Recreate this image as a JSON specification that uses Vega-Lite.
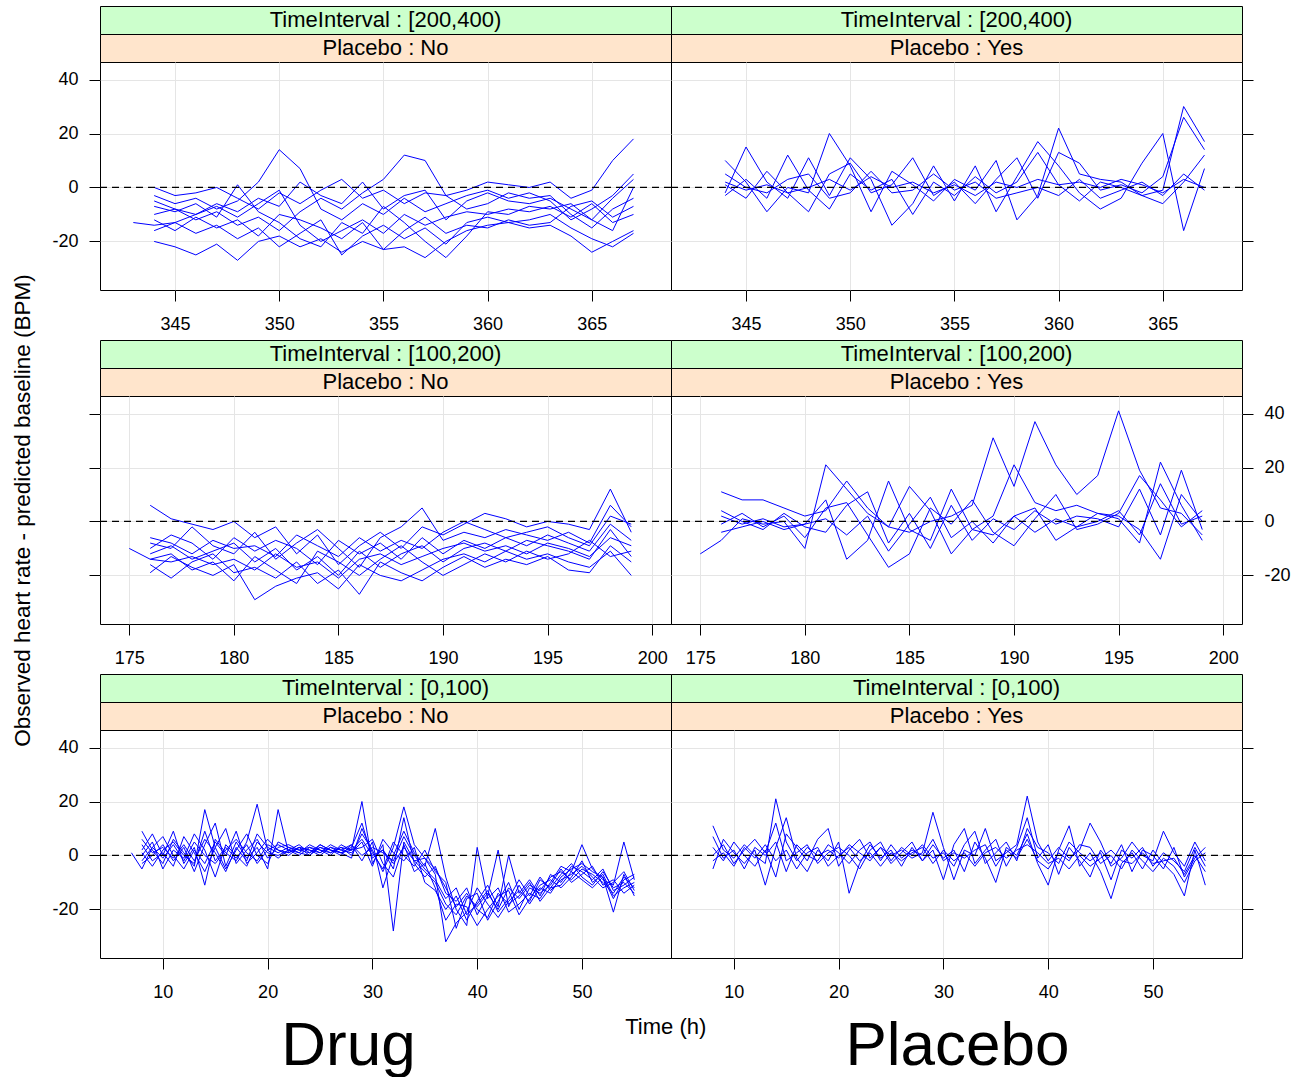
{
"$schema":"https://vega.github.io/schema/vega-lite/v6.json",
"padding":{"left":10,"top":5,"right":5,"bottom":0},
"bounds":"flush",
"columns":2,
"spacing":0,
"config":{"font":"Liberation Sans","view":{"stroke":"black","strokeWidth":1},
"axis":{"labelFontSize":18,"labelColor":"black","tickColor":"black","tickSize":11,"domain":false,"grid":true,"gridColor":"#e5e5e5","titleFontWeight":"normal","titleColor":"black","labelFlush":false,"labelOverlap":false},
"axisX":{"labelPadding":14},"axisY":{"labelPadding":11}},
"title":{"text":"Time (h)","orient":"bottom","anchor":"middle","frame":"bounds","dx":15,"fontSize":22,"fontWeight":"normal","offset":-60,"color":"black"},
"datasets":{
"tl":[
{"s":1,"x":344,"y":-20},{"s":1,"x":345,"y":-22},{"s":1,"x":346,"y":-25},{"s":1,"x":347,"y":-21},{"s":1,"x":348,"y":-27},{"s":1,"x":349,"y":-20},{"s":1,"x":350,"y":-18},{"s":1,"x":351,"y":-22},{"s":1,"x":352,"y":-19},{"s":1,"x":353,"y":-24},{"s":1,"x":354,"y":-20},{"s":1,"x":355,"y":-23},{"s":1,"x":356,"y":-22},{"s":1,"x":357,"y":-26},{"s":1,"x":358,"y":-20},{"s":1,"x":359,"y":-16},{"s":1,"x":360,"y":-14},{"s":1,"x":361,"y":-13},{"s":1,"x":362,"y":-15},{"s":1,"x":363,"y":-14},{"s":1,"x":364,"y":-18},{"s":1,"x":365,"y":-24},{"s":1,"x":366,"y":-20},{"s":1,"x":367,"y":-16},
{"s":2,"x":344,"y":-3},{"s":2,"x":345,"y":-6},{"s":2,"x":346,"y":-4},{"s":2,"x":347,"y":-8},{"s":2,"x":348,"y":-5},{"s":2,"x":349,"y":2},{"s":2,"x":350,"y":14},{"s":2,"x":351,"y":7},{"s":2,"x":352,"y":-8},{"s":2,"x":353,"y":-12},{"s":2,"x":354,"y":-6},{"s":2,"x":355,"y":-10},{"s":2,"x":356,"y":-4},{"s":2,"x":357,"y":-9},{"s":2,"x":358,"y":-6},{"s":2,"x":359,"y":-3},{"s":2,"x":360,"y":-1},{"s":2,"x":361,"y":-4},{"s":2,"x":362,"y":-2},{"s":2,"x":363,"y":-5},{"s":2,"x":364,"y":-12},{"s":2,"x":365,"y":-8},{"s":2,"x":366,"y":-3},{"s":2,"x":367,"y":5},
{"s":3,"x":344,"y":-10},{"s":3,"x":345,"y":-8},{"s":3,"x":346,"y":-12},{"s":3,"x":347,"y":-9},{"s":3,"x":348,"y":-14},{"s":3,"x":349,"y":-11},{"s":3,"x":350,"y":-16},{"s":3,"x":351,"y":-9},{"s":3,"x":352,"y":-4},{"s":3,"x":353,"y":-8},{"s":3,"x":354,"y":-2},{"s":3,"x":355,"y":3},{"s":3,"x":356,"y":12},{"s":3,"x":357,"y":10},{"s":3,"x":358,"y":-3},{"s":3,"x":359,"y":-8},{"s":3,"x":360,"y":-6},{"s":3,"x":361,"y":-2},{"s":3,"x":362,"y":-4},{"s":3,"x":363,"y":-3},{"s":3,"x":364,"y":-10},{"s":3,"x":365,"y":-15},{"s":3,"x":366,"y":-8},{"s":3,"x":367,"y":-4},
{"s":4,"x":343,"y":-13},{"s":4,"x":344,"y":-14},{"s":4,"x":345,"y":-13},{"s":4,"x":346,"y":-10},{"s":4,"x":347,"y":-7},{"s":4,"x":348,"y":-11},{"s":4,"x":349,"y":-6},{"s":4,"x":350,"y":-1},{"s":4,"x":351,"y":-14},{"s":4,"x":352,"y":-20},{"s":4,"x":353,"y":-16},{"s":4,"x":354,"y":-12},{"s":4,"x":355,"y":-17},{"s":4,"x":356,"y":-10},{"s":4,"x":357,"y":-14},{"s":4,"x":358,"y":-11},{"s":4,"x":359,"y":-9},{"s":4,"x":360,"y":-10},{"s":4,"x":361,"y":-8},{"s":4,"x":362,"y":-9},{"s":4,"x":363,"y":-7},{"s":4,"x":364,"y":-11},{"s":4,"x":365,"y":-6},{"s":4,"x":366,"y":-13},{"s":4,"x":367,"y":-10},
{"s":5,"x":344,"y":0},{"s":5,"x":345,"y":-3},{"s":5,"x":346,"y":-2},{"s":5,"x":347,"y":0},{"s":5,"x":348,"y":-4},{"s":5,"x":349,"y":-8},{"s":5,"x":350,"y":-2},{"s":5,"x":351,"y":-6},{"s":5,"x":352,"y":-1},{"s":5,"x":353,"y":3},{"s":5,"x":354,"y":-4},{"s":5,"x":355,"y":-1},{"s":5,"x":356,"y":-6},{"s":5,"x":357,"y":-2},{"s":5,"x":358,"y":-3},{"s":5,"x":359,"y":-1},{"s":5,"x":360,"y":2},{"s":5,"x":361,"y":1},{"s":5,"x":362,"y":0},{"s":5,"x":363,"y":2},{"s":5,"x":364,"y":-4},{"s":5,"x":365,"y":-1},{"s":5,"x":366,"y":10},{"s":5,"x":367,"y":18},
{"s":6,"x":344,"y":-16},{"s":6,"x":345,"y":-13},{"s":6,"x":346,"y":-17},{"s":6,"x":347,"y":-14},{"s":6,"x":348,"y":-19},{"s":6,"x":349,"y":-15},{"s":6,"x":350,"y":-22},{"s":6,"x":351,"y":-17},{"s":6,"x":352,"y":-12},{"s":6,"x":353,"y":-25},{"s":6,"x":354,"y":-18},{"s":6,"x":355,"y":-14},{"s":6,"x":356,"y":-19},{"s":6,"x":357,"y":-15},{"s":6,"x":358,"y":-21},{"s":6,"x":359,"y":-13},{"s":6,"x":360,"y":-11},{"s":6,"x":361,"y":-13},{"s":6,"x":362,"y":-12},{"s":6,"x":363,"y":-10},{"s":6,"x":364,"y":-15},{"s":6,"x":365,"y":-19},{"s":6,"x":366,"y":-22},{"s":6,"x":367,"y":-17},
{"s":7,"x":344,"y":-7},{"s":7,"x":345,"y":-9},{"s":7,"x":346,"y":-6},{"s":7,"x":347,"y":-11},{"s":7,"x":348,"y":1},{"s":7,"x":349,"y":-9},{"s":7,"x":350,"y":-13},{"s":7,"x":351,"y":-19},{"s":7,"x":352,"y":-22},{"s":7,"x":353,"y":-13},{"s":7,"x":354,"y":-17},{"s":7,"x":355,"y":-7},{"s":7,"x":356,"y":-13},{"s":7,"x":357,"y":-20},{"s":7,"x":358,"y":-26},{"s":7,"x":359,"y":-18},{"s":7,"x":360,"y":-9},{"s":7,"x":361,"y":-10},{"s":7,"x":362,"y":-7},{"s":7,"x":363,"y":-8},{"s":7,"x":364,"y":-6},{"s":7,"x":365,"y":-12},{"s":7,"x":366,"y":-16},{"s":7,"x":367,"y":0},
{"s":8,"x":344,"y":-5},{"s":8,"x":345,"y":-8},{"s":8,"x":346,"y":-10},{"s":8,"x":347,"y":-6},{"s":8,"x":348,"y":-9},{"s":8,"x":349,"y":-4},{"s":8,"x":350,"y":-7},{"s":8,"x":351,"y":2},{"s":8,"x":352,"y":-3},{"s":8,"x":353,"y":-6},{"s":8,"x":354,"y":2},{"s":8,"x":355,"y":-8},{"s":8,"x":356,"y":-3},{"s":8,"x":357,"y":-1},{"s":8,"x":358,"y":-12},{"s":8,"x":359,"y":-5},{"s":8,"x":360,"y":-2},{"s":8,"x":361,"y":-5},{"s":8,"x":362,"y":-6},{"s":8,"x":363,"y":-4},{"s":8,"x":364,"y":-8},{"s":8,"x":365,"y":-12},{"s":8,"x":366,"y":-4},{"s":8,"x":367,"y":3},
{"s":9,"x":344,"y":-12},{"s":9,"x":345,"y":-16},{"s":9,"x":346,"y":-11},{"s":9,"x":347,"y":-15},{"s":9,"x":348,"y":-12},{"s":9,"x":349,"y":-18},{"s":9,"x":350,"y":-10},{"s":9,"x":351,"y":-12},{"s":9,"x":352,"y":-15},{"s":9,"x":353,"y":-19},{"s":9,"x":354,"y":-13},{"s":9,"x":355,"y":-23},{"s":9,"x":356,"y":-16},{"s":9,"x":357,"y":-11},{"s":9,"x":358,"y":-17},{"s":9,"x":359,"y":-14},{"s":9,"x":360,"y":-15},{"s":9,"x":361,"y":-12},{"s":9,"x":362,"y":-14},{"s":9,"x":363,"y":-13},{"s":9,"x":364,"y":-7},{"s":9,"x":365,"y":-5},{"s":9,"x":366,"y":-11},{"s":9,"x":367,"y":-7}
],
"tr":[
{"s":1,"x":344,"y":2},{"s":1,"x":345,"y":-1},{"s":1,"x":346,"y":1},{"s":1,"x":347,"y":-2},{"s":1,"x":348,"y":0},{"s":1,"x":349,"y":3},{"s":1,"x":350,"y":-1},{"s":1,"x":351,"y":4},{"s":1,"x":352,"y":0},{"s":1,"x":353,"y":2},{"s":1,"x":354,"y":-2},{"s":1,"x":355,"y":1},{"s":1,"x":356,"y":-3},{"s":1,"x":357,"y":2},{"s":1,"x":358,"y":0},{"s":1,"x":359,"y":3},{"s":1,"x":360,"y":1},{"s":1,"x":361,"y":2},{"s":1,"x":362,"y":0},{"s":1,"x":363,"y":3},{"s":1,"x":364,"y":1},{"s":1,"x":365,"y":-2},{"s":1,"x":366,"y":3},{"s":1,"x":367,"y":0},
{"s":2,"x":344,"y":10},{"s":2,"x":345,"y":2},{"s":2,"x":346,"y":-9},{"s":2,"x":347,"y":0},{"s":2,"x":348,"y":-2},{"s":2,"x":349,"y":20},{"s":2,"x":350,"y":8},{"s":2,"x":351,"y":-9},{"s":2,"x":352,"y":6},{"s":2,"x":353,"y":1},{"s":2,"x":354,"y":-5},{"s":2,"x":355,"y":3},{"s":2,"x":356,"y":-1},{"s":2,"x":357,"y":10},{"s":2,"x":358,"y":-12},{"s":2,"x":359,"y":-3},{"s":2,"x":360,"y":22},{"s":2,"x":361,"y":5},{"s":2,"x":362,"y":3},{"s":2,"x":363,"y":2},{"s":2,"x":364,"y":-3},{"s":2,"x":365,"y":-1},{"s":2,"x":366,"y":30},{"s":2,"x":367,"y":17},
{"s":3,"x":344,"y":-2},{"s":3,"x":345,"y":15},{"s":3,"x":346,"y":2},{"s":3,"x":347,"y":-4},{"s":3,"x":348,"y":11},{"s":3,"x":349,"y":-3},{"s":3,"x":350,"y":11},{"s":3,"x":351,"y":3},{"s":3,"x":352,"y":-14},{"s":3,"x":353,"y":-6},{"s":3,"x":354,"y":8},{"s":3,"x":355,"y":-5},{"s":3,"x":356,"y":8},{"s":3,"x":357,"y":-9},{"s":3,"x":358,"y":4},{"s":3,"x":359,"y":17},{"s":3,"x":360,"y":8},{"s":3,"x":361,"y":-2},{"s":3,"x":362,"y":-8},{"s":3,"x":363,"y":-4},{"s":3,"x":364,"y":9},{"s":3,"x":365,"y":20},{"s":3,"x":366,"y":-16},{"s":3,"x":367,"y":7},
{"s":4,"x":344,"y":1},{"s":4,"x":345,"y":-4},{"s":4,"x":346,"y":6},{"s":4,"x":347,"y":-2},{"s":4,"x":348,"y":-9},{"s":4,"x":349,"y":5},{"s":4,"x":350,"y":9},{"s":4,"x":351,"y":-2},{"s":4,"x":352,"y":1},{"s":4,"x":353,"y":11},{"s":4,"x":354,"y":-3},{"s":4,"x":355,"y":2},{"s":4,"x":356,"y":-6},{"s":4,"x":357,"y":3},{"s":4,"x":358,"y":11},{"s":4,"x":359,"y":-4},{"s":4,"x":360,"y":13},{"s":4,"x":361,"y":9},{"s":4,"x":362,"y":-1},{"s":4,"x":363,"y":1},{"s":4,"x":364,"y":-2},{"s":4,"x":365,"y":4},{"s":4,"x":366,"y":26},{"s":4,"x":367,"y":14},
{"s":5,"x":344,"y":-3},{"s":5,"x":345,"y":3},{"s":5,"x":346,"y":-4},{"s":5,"x":347,"y":12},{"s":5,"x":348,"y":-1},{"s":5,"x":349,"y":-8},{"s":5,"x":350,"y":5},{"s":5,"x":351,"y":-1},{"s":5,"x":352,"y":3},{"s":5,"x":353,"y":-10},{"s":5,"x":354,"y":2},{"s":5,"x":355,"y":-3},{"s":5,"x":356,"y":4},{"s":5,"x":357,"y":-2},{"s":5,"x":358,"y":2},{"s":5,"x":359,"y":13},{"s":5,"x":360,"y":1},{"s":5,"x":361,"y":-5},{"s":5,"x":362,"y":2},{"s":5,"x":363,"y":0},{"s":5,"x":364,"y":-3},{"s":5,"x":365,"y":-6},{"s":5,"x":366,"y":2},{"s":5,"x":367,"y":12},
{"s":6,"x":344,"y":5},{"s":6,"x":345,"y":0},{"s":6,"x":346,"y":-2},{"s":6,"x":347,"y":3},{"s":6,"x":348,"y":5},{"s":6,"x":349,"y":-4},{"s":6,"x":350,"y":-2},{"s":6,"x":351,"y":6},{"s":6,"x":352,"y":-2},{"s":6,"x":353,"y":-1},{"s":6,"x":354,"y":5},{"s":6,"x":355,"y":-1},{"s":6,"x":356,"y":2},{"s":6,"x":357,"y":-4},{"s":6,"x":358,"y":-2},{"s":6,"x":359,"y":0},{"s":6,"x":360,"y":-3},{"s":6,"x":361,"y":3},{"s":6,"x":362,"y":-4},{"s":6,"x":363,"y":-1},{"s":6,"x":364,"y":2},{"s":6,"x":365,"y":-3},{"s":6,"x":366,"y":5},{"s":6,"x":367,"y":-1}
],
"ml":[
{"s":1,"x":175,"y":-10},{"s":1,"x":176,"y":-14},{"s":1,"x":177,"y":-15},{"s":1,"x":178,"y":-13},{"s":1,"x":179,"y":-16},{"s":1,"x":180,"y":-14},{"s":1,"x":181,"y":-18},{"s":1,"x":182,"y":-12},{"s":1,"x":183,"y":-17},{"s":1,"x":184,"y":-15},{"s":1,"x":185,"y":-21},{"s":1,"x":186,"y":-14},{"s":1,"x":187,"y":-12},{"s":1,"x":188,"y":-16},{"s":1,"x":189,"y":-13},{"s":1,"x":190,"y":-10},{"s":1,"x":191,"y":-8},{"s":1,"x":192,"y":-11},{"s":1,"x":193,"y":-9},{"s":1,"x":194,"y":-12},{"s":1,"x":195,"y":-8},{"s":1,"x":196,"y":-10},{"s":1,"x":197,"y":-13},{"s":1,"x":198,"y":-6},{"s":1,"x":199,"y":-9},
{"s":2,"x":176,"y":6},{"s":2,"x":177,"y":1},{"s":2,"x":178,"y":-1},{"s":2,"x":179,"y":-3},{"s":2,"x":180,"y":0},{"s":2,"x":181,"y":-6},{"s":2,"x":182,"y":-2},{"s":2,"x":183,"y":-12},{"s":2,"x":184,"y":-5},{"s":2,"x":185,"y":-16},{"s":2,"x":186,"y":-9},{"s":2,"x":187,"y":-4},{"s":2,"x":188,"y":-10},{"s":2,"x":189,"y":-2},{"s":2,"x":190,"y":-5},{"s":2,"x":191,"y":-1},{"s":2,"x":192,"y":3},{"s":2,"x":193,"y":1},{"s":2,"x":194,"y":-2},{"s":2,"x":195,"y":0},{"s":2,"x":196,"y":-1},{"s":2,"x":197,"y":-3},{"s":2,"x":198,"y":12},{"s":2,"x":199,"y":-4},
{"s":3,"x":176,"y":-19},{"s":3,"x":177,"y":-13},{"s":3,"x":178,"y":-17},{"s":3,"x":179,"y":-20},{"s":3,"x":180,"y":-16},{"s":3,"x":181,"y":-29},{"s":3,"x":182,"y":-24},{"s":3,"x":183,"y":-21},{"s":3,"x":184,"y":-19},{"s":3,"x":185,"y":-25},{"s":3,"x":186,"y":-16},{"s":3,"x":187,"y":-20},{"s":3,"x":188,"y":-22},{"s":3,"x":189,"y":-18},{"s":3,"x":190,"y":-14},{"s":3,"x":191,"y":-12},{"s":3,"x":192,"y":-15},{"s":3,"x":193,"y":-11},{"s":3,"x":194,"y":-14},{"s":3,"x":195,"y":-12},{"s":3,"x":196,"y":-15},{"s":3,"x":197,"y":-17},{"s":3,"x":198,"y":-11},{"s":3,"x":199,"y":-20},
{"s":4,"x":176,"y":-8},{"s":4,"x":177,"y":-10},{"s":4,"x":178,"y":-2},{"s":4,"x":179,"y":-9},{"s":4,"x":180,"y":-12},{"s":4,"x":181,"y":-4},{"s":4,"x":182,"y":-14},{"s":4,"x":183,"y":-8},{"s":4,"x":184,"y":-3},{"s":4,"x":185,"y":-10},{"s":4,"x":186,"y":-17},{"s":4,"x":187,"y":-6},{"s":4,"x":188,"y":-2},{"s":4,"x":189,"y":5},{"s":4,"x":190,"y":-7},{"s":4,"x":191,"y":-4},{"s":4,"x":192,"y":-6},{"s":4,"x":193,"y":-3},{"s":4,"x":194,"y":-5},{"s":4,"x":195,"y":-7},{"s":4,"x":196,"y":-4},{"s":4,"x":197,"y":-8},{"s":4,"x":198,"y":6},{"s":4,"x":199,"y":-2},
{"s":5,"x":176,"y":-12},{"s":5,"x":177,"y":-9},{"s":5,"x":178,"y":-14},{"s":5,"x":179,"y":-11},{"s":5,"x":180,"y":-8},{"s":5,"x":181,"y":-15},{"s":5,"x":182,"y":-10},{"s":5,"x":183,"y":-18},{"s":5,"x":184,"y":-13},{"s":5,"x":185,"y":-20},{"s":5,"x":186,"y":-11},{"s":5,"x":187,"y":-17},{"s":5,"x":188,"y":-12},{"s":5,"x":189,"y":-9},{"s":5,"x":190,"y":-15},{"s":5,"x":191,"y":-10},{"s":5,"x":192,"y":-8},{"s":5,"x":193,"y":-11},{"s":5,"x":194,"y":-7},{"s":5,"x":195,"y":-9},{"s":5,"x":196,"y":-11},{"s":5,"x":197,"y":-14},{"s":5,"x":198,"y":-3},{"s":5,"x":199,"y":-13},
{"s":6,"x":176,"y":-6},{"s":6,"x":177,"y":-8},{"s":6,"x":178,"y":-12},{"s":6,"x":179,"y":-7},{"s":6,"x":180,"y":-10},{"s":6,"x":181,"y":-9},{"s":6,"x":182,"y":-13},{"s":6,"x":183,"y":-5},{"s":6,"x":184,"y":-9},{"s":6,"x":185,"y":-13},{"s":6,"x":186,"y":-6},{"s":6,"x":187,"y":-11},{"s":6,"x":188,"y":-7},{"s":6,"x":189,"y":-10},{"s":6,"x":190,"y":-4},{"s":6,"x":191,"y":0},{"s":6,"x":192,"y":-3},{"s":6,"x":193,"y":-6},{"s":6,"x":194,"y":-4},{"s":6,"x":195,"y":-2},{"s":6,"x":196,"y":-6},{"s":6,"x":197,"y":-9},{"s":6,"x":198,"y":2},{"s":6,"x":199,"y":-1},
{"s":7,"x":176,"y":-16},{"s":7,"x":177,"y":-21},{"s":7,"x":178,"y":-15},{"s":7,"x":179,"y":-12},{"s":7,"x":180,"y":-19},{"s":7,"x":181,"y":-17},{"s":7,"x":182,"y":-21},{"s":7,"x":183,"y":-15},{"s":7,"x":184,"y":-23},{"s":7,"x":185,"y":-18},{"s":7,"x":186,"y":-27},{"s":7,"x":187,"y":-15},{"s":7,"x":188,"y":-19},{"s":7,"x":189,"y":-22},{"s":7,"x":190,"y":-17},{"s":7,"x":191,"y":-13},{"s":7,"x":192,"y":-17},{"s":7,"x":193,"y":-14},{"s":7,"x":194,"y":-16},{"s":7,"x":195,"y":-13},{"s":7,"x":196,"y":-18},{"s":7,"x":197,"y":-19},{"s":7,"x":198,"y":-9},{"s":7,"x":199,"y":-15},
{"s":8,"x":176,"y":-10},{"s":8,"x":177,"y":-5},{"s":8,"x":178,"y":-8},{"s":8,"x":179,"y":-14},{"s":8,"x":180,"y":-6},{"s":8,"x":181,"y":-11},{"s":8,"x":182,"y":-7},{"s":8,"x":183,"y":-10},{"s":8,"x":184,"y":-16},{"s":8,"x":185,"y":-7},{"s":8,"x":186,"y":-12},{"s":8,"x":187,"y":-8},{"s":8,"x":188,"y":-14},{"s":8,"x":189,"y":-6},{"s":8,"x":190,"y":-12},{"s":8,"x":191,"y":-7},{"s":8,"x":192,"y":-10},{"s":8,"x":193,"y":-6},{"s":8,"x":194,"y":-9},{"s":8,"x":195,"y":-5},{"s":8,"x":196,"y":-8},{"s":8,"x":197,"y":-11},{"s":8,"x":198,"y":-1},{"s":8,"x":199,"y":-7},
{"s":9,"x":176,"y":-14},{"s":9,"x":177,"y":-12},{"s":9,"x":178,"y":-18},{"s":9,"x":179,"y":-15},{"s":9,"x":180,"y":-22},{"s":9,"x":181,"y":-13},{"s":9,"x":182,"y":-18},{"s":9,"x":183,"y":-23},{"s":9,"x":184,"y":-11},{"s":9,"x":185,"y":-15},{"s":9,"x":186,"y":-20},{"s":9,"x":187,"y":-14},{"s":9,"x":188,"y":-9},{"s":9,"x":189,"y":-15},{"s":9,"x":190,"y":-20},{"s":9,"x":191,"y":-16},{"s":9,"x":192,"y":-12},{"s":9,"x":193,"y":-15},{"s":9,"x":194,"y":-11},{"s":9,"x":195,"y":-14},{"s":9,"x":196,"y":-12},{"s":9,"x":197,"y":-7},{"s":9,"x":198,"y":-13},{"s":9,"x":199,"y":-11}
],
"mr":[
{"s":1,"x":176,"y":11},{"s":1,"x":177,"y":8},{"s":1,"x":178,"y":8},{"s":1,"x":179,"y":5},{"s":1,"x":180,"y":2},{"s":1,"x":181,"y":4},{"s":1,"x":182,"y":15},{"s":1,"x":183,"y":5},{"s":1,"x":184,"y":-2},{"s":1,"x":185,"y":-4},{"s":1,"x":186,"y":0},{"s":1,"x":187,"y":2},{"s":1,"x":188,"y":6},{"s":1,"x":189,"y":31},{"s":1,"x":190,"y":13},{"s":1,"x":191,"y":37},{"s":1,"x":192,"y":21},{"s":1,"x":193,"y":10},{"s":1,"x":194,"y":17},{"s":1,"x":195,"y":41},{"s":1,"x":196,"y":19},{"s":1,"x":197,"y":5},{"s":1,"x":198,"y":3},{"s":1,"x":199,"y":-5},
{"s":2,"x":175,"y":-12},{"s":2,"x":176,"y":-7},{"s":2,"x":177,"y":1},{"s":2,"x":178,"y":-1},{"s":2,"x":179,"y":0},{"s":2,"x":180,"y":-10},{"s":2,"x":181,"y":21},{"s":2,"x":182,"y":12},{"s":2,"x":183,"y":3},{"s":2,"x":184,"y":-2},{"s":2,"x":185,"y":13},{"s":2,"x":186,"y":4},{"s":2,"x":187,"y":-12},{"s":2,"x":188,"y":-3},{"s":2,"x":189,"y":-5},{"s":2,"x":190,"y":2},{"s":2,"x":191,"y":5},{"s":2,"x":192,"y":-7},{"s":2,"x":193,"y":-2},{"s":2,"x":194,"y":3},{"s":2,"x":195,"y":1},{"s":2,"x":196,"y":-8},{"s":2,"x":197,"y":22},{"s":2,"x":198,"y":6},{"s":2,"x":199,"y":-7},
{"s":3,"x":176,"y":2},{"s":3,"x":177,"y":-1},{"s":3,"x":178,"y":1},{"s":3,"x":179,"y":-2},{"s":3,"x":180,"y":-1},{"s":3,"x":181,"y":8},{"s":3,"x":182,"y":-14},{"s":3,"x":183,"y":-7},{"s":3,"x":184,"y":15},{"s":3,"x":185,"y":-3},{"s":3,"x":186,"y":-7},{"s":3,"x":187,"y":12},{"s":3,"x":188,"y":-3},{"s":3,"x":189,"y":2},{"s":3,"x":190,"y":21},{"s":3,"x":191,"y":7},{"s":3,"x":192,"y":4},{"s":3,"x":193,"y":6},{"s":3,"x":194,"y":3},{"s":3,"x":195,"y":2},{"s":3,"x":196,"y":-3},{"s":3,"x":197,"y":-14},{"s":3,"x":198,"y":10},{"s":3,"x":199,"y":0},
{"s":4,"x":176,"y":-1},{"s":4,"x":177,"y":3},{"s":4,"x":178,"y":-2},{"s":4,"x":179,"y":2},{"s":4,"x":180,"y":-6},{"s":4,"x":181,"y":5},{"s":4,"x":182,"y":7},{"s":4,"x":183,"y":-5},{"s":4,"x":184,"y":-17},{"s":4,"x":185,"y":-12},{"s":4,"x":186,"y":5},{"s":4,"x":187,"y":-1},{"s":4,"x":188,"y":8},{"s":4,"x":189,"y":-4},{"s":4,"x":190,"y":-9},{"s":4,"x":191,"y":1},{"s":4,"x":192,"y":10},{"s":4,"x":193,"y":-3},{"s":4,"x":194,"y":-1},{"s":4,"x":195,"y":3},{"s":4,"x":196,"y":17},{"s":4,"x":197,"y":8},{"s":4,"x":198,"y":-2},{"s":4,"x":199,"y":4},
{"s":5,"x":176,"y":4},{"s":5,"x":177,"y":0},{"s":5,"x":178,"y":-3},{"s":5,"x":179,"y":3},{"s":5,"x":180,"y":-2},{"s":5,"x":181,"y":-4},{"s":5,"x":182,"y":6},{"s":5,"x":183,"y":11},{"s":5,"x":184,"y":-8},{"s":5,"x":185,"y":3},{"s":5,"x":186,"y":-10},{"s":5,"x":187,"y":6},{"s":5,"x":188,"y":-7},{"s":5,"x":189,"y":1},{"s":5,"x":190,"y":-3},{"s":5,"x":191,"y":4},{"s":5,"x":192,"y":-1},{"s":5,"x":193,"y":2},{"s":5,"x":194,"y":1},{"s":5,"x":195,"y":-2},{"s":5,"x":196,"y":12},{"s":5,"x":197,"y":-5},{"s":5,"x":198,"y":19},{"s":5,"x":199,"y":-3},
{"s":6,"x":176,"y":-4},{"s":6,"x":177,"y":-2},{"s":6,"x":178,"y":0},{"s":6,"x":179,"y":-3},{"s":6,"x":180,"y":-1},{"s":6,"x":181,"y":1},{"s":6,"x":182,"y":-5},{"s":6,"x":183,"y":2},{"s":6,"x":184,"y":-11},{"s":6,"x":185,"y":-1},{"s":6,"x":186,"y":9},{"s":6,"x":187,"y":-6},{"s":6,"x":188,"y":0},{"s":6,"x":189,"y":-8},{"s":6,"x":190,"y":2},{"s":6,"x":191,"y":-4},{"s":6,"x":192,"y":1},{"s":6,"x":193,"y":-2},{"s":6,"x":194,"y":0},{"s":6,"x":195,"y":4},{"s":6,"x":196,"y":-5},{"s":6,"x":197,"y":14},{"s":6,"x":198,"y":-1},{"s":6,"x":199,"y":2}
],
"bl":[
{"s":1,"x":7,"y":1},{"s":1,"x":8,"y":-5},{"s":1,"x":9,"y":3},{"s":1,"x":10,"y":-1},{"s":1,"x":11,"y":4},{"s":1,"x":12,"y":-2},{"s":1,"x":13,"y":5},{"s":1,"x":14,"y":0},{"s":1,"x":15,"y":-3},{"s":1,"x":16,"y":2},{"s":1,"x":17,"y":6},{"s":1,"x":18,"y":1},{"s":1,"x":19,"y":-2},{"s":1,"x":20,"y":4},{"s":1,"x":21,"y":2},{"s":1,"x":22,"y":1},{"s":1,"x":23,"y":3},{"s":1,"x":24,"y":2},{"s":1,"x":25,"y":0},{"s":1,"x":26,"y":3},{"s":1,"x":27,"y":1},{"s":1,"x":28,"y":2},{"s":1,"x":29,"y":20},{"s":1,"x":30,"y":-3},{"s":1,"x":31,"y":4},{"s":1,"x":32,"y":-28},{"s":1,"x":33,"y":5},{"s":1,"x":34,"y":-2},{"s":1,"x":35,"y":-6},{"s":1,"x":36,"y":-10},{"s":1,"x":37,"y":-18},{"s":1,"x":38,"y":-22},{"s":1,"x":39,"y":-15},{"s":1,"x":40,"y":-19},{"s":1,"x":41,"y":-14},{"s":1,"x":42,"y":-20},{"s":1,"x":43,"y":-12},{"s":1,"x":44,"y":-16},{"s":1,"x":45,"y":-11},{"s":1,"x":46,"y":-13},{"s":1,"x":47,"y":-8},{"s":1,"x":48,"y":-6},{"s":1,"x":49,"y":-9},{"s":1,"x":50,"y":-5},{"s":1,"x":51,"y":-7},{"s":1,"x":52,"y":-10},{"s":1,"x":53,"y":-14},{"s":1,"x":54,"y":-8},{"s":1,"x":55,"y":-12},
{"s":2,"x":8,"y":9},{"s":2,"x":9,"y":2},{"s":2,"x":10,"y":-3},{"s":2,"x":11,"y":6},{"s":2,"x":12,"y":1},{"s":2,"x":13,"y":-4},{"s":2,"x":14,"y":17},{"s":2,"x":15,"y":3},{"s":2,"x":16,"y":-5},{"s":2,"x":17,"y":2},{"s":2,"x":18,"y":8},{"s":2,"x":19,"y":0},{"s":2,"x":20,"y":-3},{"s":2,"x":21,"y":5},{"s":2,"x":22,"y":3},{"s":2,"x":23,"y":1},{"s":2,"x":24,"y":4},{"s":2,"x":25,"y":2},{"s":2,"x":26,"y":1},{"s":2,"x":27,"y":3},{"s":2,"x":28,"y":0},{"s":2,"x":29,"y":8},{"s":2,"x":30,"y":2},{"s":2,"x":31,"y":-6},{"s":2,"x":32,"y":3},{"s":2,"x":33,"y":18},{"s":2,"x":34,"y":4},{"s":2,"x":35,"y":-1},{"s":2,"x":36,"y":-7},{"s":2,"x":37,"y":-32},{"s":2,"x":38,"y":-25},{"s":2,"x":39,"y":-21},{"s":2,"x":40,"y":-12},{"s":2,"x":41,"y":-18},{"s":2,"x":42,"y":-23},{"s":2,"x":43,"y":-17},{"s":2,"x":44,"y":-13},{"s":2,"x":45,"y":-17},{"s":2,"x":46,"y":-9},{"s":2,"x":47,"y":-12},{"s":2,"x":48,"y":-7},{"s":2,"x":49,"y":-3},{"s":2,"x":50,"y":-8},{"s":2,"x":51,"y":-11},{"s":2,"x":52,"y":-6},{"s":2,"x":53,"y":-12},{"s":2,"x":54,"y":-10},{"s":2,"x":55,"y":-14},
{"s":3,"x":8,"y":2},{"s":3,"x":9,"y":8},{"s":3,"x":10,"y":0},{"s":3,"x":11,"y":9},{"s":3,"x":12,"y":-3},{"s":3,"x":13,"y":3},{"s":3,"x":14,"y":-11},{"s":3,"x":15,"y":6},{"s":3,"x":16,"y":1},{"s":3,"x":17,"y":-2},{"s":3,"x":18,"y":5},{"s":3,"x":19,"y":19},{"s":3,"x":20,"y":2},{"s":3,"x":21,"y":-1},{"s":3,"x":22,"y":2},{"s":3,"x":23,"y":4},{"s":3,"x":24,"y":1},{"s":3,"x":25,"y":3},{"s":3,"x":26,"y":2},{"s":3,"x":27,"y":0},{"s":3,"x":28,"y":4},{"s":3,"x":29,"y":-2},{"s":3,"x":30,"y":5},{"s":3,"x":31,"y":-12},{"s":3,"x":32,"y":0},{"s":3,"x":33,"y":9},{"s":3,"x":34,"y":1},{"s":3,"x":35,"y":-4},{"s":3,"x":36,"y":10},{"s":3,"x":37,"y":-8},{"s":3,"x":38,"y":-20},{"s":3,"x":39,"y":-26},{"s":3,"x":40,"y":3},{"s":3,"x":41,"y":-16},{"s":3,"x":42,"y":-12},{"s":3,"x":43,"y":-21},{"s":3,"x":44,"y":-18},{"s":3,"x":45,"y":-14},{"s":3,"x":46,"y":-16},{"s":3,"x":47,"y":-10},{"s":3,"x":48,"y":-4},{"s":3,"x":49,"y":-6},{"s":3,"x":50,"y":4},{"s":3,"x":51,"y":-5},{"s":3,"x":52,"y":-9},{"s":3,"x":53,"y":-11},{"s":3,"x":54,"y":5},{"s":3,"x":55,"y":-9},
{"s":4,"x":8,"y":-3},{"s":4,"x":9,"y":0},{"s":4,"x":10,"y":4},{"s":4,"x":11,"y":-2},{"s":4,"x":12,"y":3},{"s":4,"x":13,"y":-6},{"s":4,"x":14,"y":4},{"s":4,"x":15,"y":12},{"s":4,"x":16,"y":-4},{"s":4,"x":17,"y":5},{"s":4,"x":18,"y":-1},{"s":4,"x":19,"y":3},{"s":4,"x":20,"y":-5},{"s":4,"x":21,"y":17},{"s":4,"x":22,"y":1},{"s":4,"x":23,"y":3},{"s":4,"x":24,"y":0},{"s":4,"x":25,"y":4},{"s":4,"x":26,"y":2},{"s":4,"x":27,"y":1},{"s":4,"x":28,"y":3},{"s":4,"x":29,"y":12},{"s":4,"x":30,"y":-1},{"s":4,"x":31,"y":2},{"s":4,"x":32,"y":-5},{"s":4,"x":33,"y":14},{"s":4,"x":34,"y":-3},{"s":4,"x":35,"y":-8},{"s":4,"x":36,"y":-4},{"s":4,"x":37,"y":-14},{"s":4,"x":38,"y":-17},{"s":4,"x":39,"y":-12},{"s":4,"x":40,"y":-22},{"s":4,"x":41,"y":-15},{"s":4,"x":42,"y":2},{"s":4,"x":43,"y":-19},{"s":4,"x":44,"y":-11},{"s":4,"x":45,"y":-18},{"s":4,"x":46,"y":-12},{"s":4,"x":47,"y":-14},{"s":4,"x":48,"y":-8},{"s":4,"x":49,"y":-5},{"s":4,"x":50,"y":-3},{"s":4,"x":51,"y":-6},{"s":4,"x":52,"y":-8},{"s":4,"x":53,"y":-21},{"s":4,"x":54,"y":-7},{"s":4,"x":55,"y":-15},
{"s":5,"x":8,"y":4},{"s":5,"x":9,"y":-2},{"s":5,"x":10,"y":1},{"s":5,"x":11,"y":-4},{"s":5,"x":12,"y":7},{"s":5,"x":13,"y":1},{"s":5,"x":14,"y":-6},{"s":5,"x":15,"y":3},{"s":5,"x":16,"y":10},{"s":5,"x":17,"y":-3},{"s":5,"x":18,"y":2},{"s":5,"x":19,"y":6},{"s":5,"x":20,"y":-1},{"s":5,"x":21,"y":3},{"s":5,"x":22,"y":4},{"s":5,"x":23,"y":2},{"s":5,"x":24,"y":3},{"s":5,"x":25,"y":1},{"s":5,"x":26,"y":4},{"s":5,"x":27,"y":2},{"s":5,"x":28,"y":1},{"s":5,"x":29,"y":5},{"s":5,"x":30,"y":-4},{"s":5,"x":31,"y":6},{"s":5,"x":32,"y":1},{"s":5,"x":33,"y":-2},{"s":5,"x":34,"y":3},{"s":5,"x":35,"y":-10},{"s":5,"x":36,"y":-13},{"s":5,"x":37,"y":-20},{"s":5,"x":38,"y":-15},{"s":5,"x":39,"y":-24},{"s":5,"x":40,"y":-17},{"s":5,"x":41,"y":-11},{"s":5,"x":42,"y":-19},{"s":5,"x":43,"y":0},{"s":5,"x":44,"y":-14},{"s":5,"x":45,"y":-9},{"s":5,"x":46,"y":-15},{"s":5,"x":47,"y":-7},{"s":5,"x":48,"y":-10},{"s":5,"x":49,"y":-4},{"s":5,"x":50,"y":-6},{"s":5,"x":51,"y":-9},{"s":5,"x":52,"y":-5},{"s":5,"x":53,"y":-13},{"s":5,"x":54,"y":-11},{"s":5,"x":55,"y":-8},
{"s":6,"x":8,"y":0},{"s":6,"x":9,"y":5},{"s":6,"x":10,"y":-5},{"s":6,"x":11,"y":2},{"s":6,"x":12,"y":-1},{"s":6,"x":13,"y":8},{"s":6,"x":14,"y":2},{"s":6,"x":15,"y":-8},{"s":6,"x":16,"y":4},{"s":6,"x":17,"y":0},{"s":6,"x":18,"y":-4},{"s":6,"x":19,"y":5},{"s":6,"x":20,"y":1},{"s":6,"x":21,"y":0},{"s":6,"x":22,"y":2},{"s":6,"x":23,"y":0},{"s":6,"x":24,"y":3},{"s":6,"x":25,"y":2},{"s":6,"x":26,"y":0},{"s":6,"x":27,"y":4},{"s":6,"x":28,"y":2},{"s":6,"x":29,"y":3},{"s":6,"x":30,"y":6},{"s":6,"x":31,"y":-3},{"s":6,"x":32,"y":-8},{"s":6,"x":33,"y":4},{"s":6,"x":34,"y":-6},{"s":6,"x":35,"y":-3},{"s":6,"x":36,"y":-12},{"s":6,"x":37,"y":-24},{"s":6,"x":38,"y":-18},{"s":6,"x":39,"y":-19},{"s":6,"x":40,"y":-26},{"s":6,"x":41,"y":-20},{"s":6,"x":42,"y":-15},{"s":6,"x":43,"y":-13},{"s":6,"x":44,"y":-22},{"s":6,"x":45,"y":-16},{"s":6,"x":46,"y":-11},{"s":6,"x":47,"y":-9},{"s":6,"x":48,"y":-12},{"s":6,"x":49,"y":-8},{"s":6,"x":50,"y":-2},{"s":6,"x":51,"y":-10},{"s":6,"x":52,"y":-7},{"s":6,"x":53,"y":-15},{"s":6,"x":54,"y":-12},{"s":6,"x":55,"y":-10},
{"s":7,"x":8,"y":6},{"s":7,"x":9,"y":1},{"s":7,"x":10,"y":3},{"s":7,"x":11,"y":-1},{"s":7,"x":12,"y":4},{"s":7,"x":13,"y":-2},{"s":7,"x":14,"y":6},{"s":7,"x":15,"y":1},{"s":7,"x":16,"y":-6},{"s":7,"x":17,"y":3},{"s":7,"x":18,"y":-2},{"s":7,"x":19,"y":8},{"s":7,"x":20,"y":3},{"s":7,"x":21,"y":1},{"s":7,"x":22,"y":3},{"s":7,"x":23,"y":2},{"s":7,"x":24,"y":1},{"s":7,"x":25,"y":4},{"s":7,"x":26,"y":2},{"s":7,"x":27,"y":1},{"s":7,"x":28,"y":-1},{"s":7,"x":29,"y":10},{"s":7,"x":30,"y":1},{"s":7,"x":31,"y":-5},{"s":7,"x":32,"y":5},{"s":7,"x":33,"y":0},{"s":7,"x":34,"y":-4},{"s":7,"x":35,"y":2},{"s":7,"x":36,"y":-6},{"s":7,"x":37,"y":-10},{"s":7,"x":38,"y":-27},{"s":7,"x":39,"y":-16},{"s":7,"x":40,"y":-14},{"s":7,"x":41,"y":-24},{"s":7,"x":42,"y":-17},{"s":7,"x":43,"y":-10},{"s":7,"x":44,"y":-20},{"s":7,"x":45,"y":-12},{"s":7,"x":46,"y":-14},{"s":7,"x":47,"y":-11},{"s":7,"x":48,"y":-5},{"s":7,"x":49,"y":-10},{"s":7,"x":50,"y":-7},{"s":7,"x":51,"y":-4},{"s":7,"x":52,"y":-11},{"s":7,"x":53,"y":-9},{"s":7,"x":54,"y":-14},{"s":7,"x":55,"y":-11},
{"s":8,"x":8,"y":-2},{"s":8,"x":9,"y":3},{"s":8,"x":10,"y":7},{"s":8,"x":11,"y":0},{"s":8,"x":12,"y":-5},{"s":8,"x":13,"y":2},{"s":8,"x":14,"y":-3},{"s":8,"x":15,"y":5},{"s":8,"x":16,"y":0},{"s":8,"x":17,"y":9},{"s":8,"x":18,"y":-3},{"s":8,"x":19,"y":1},{"s":8,"x":20,"y":6},{"s":8,"x":21,"y":2},{"s":8,"x":22,"y":0},{"s":8,"x":23,"y":3},{"s":8,"x":24,"y":2},{"s":8,"x":25,"y":1},{"s":8,"x":26,"y":3},{"s":8,"x":27,"y":2},{"s":8,"x":28,"y":4},{"s":8,"x":29,"y":0},{"s":8,"x":30,"y":3},{"s":8,"x":31,"y":1},{"s":8,"x":32,"y":-2},{"s":8,"x":33,"y":7},{"s":8,"x":34,"y":0},{"s":8,"x":35,"y":-5},{"s":8,"x":36,"y":-9},{"s":8,"x":37,"y":-16},{"s":8,"x":38,"y":-12},{"s":8,"x":39,"y":-22},{"s":8,"x":40,"y":-18},{"s":8,"x":41,"y":-13},{"s":8,"x":42,"y":-21},{"s":8,"x":43,"y":-16},{"s":8,"x":44,"y":-9},{"s":8,"x":45,"y":-15},{"s":8,"x":46,"y":-8},{"s":8,"x":47,"y":-13},{"s":8,"x":48,"y":-9},{"s":8,"x":49,"y":-7},{"s":8,"x":50,"y":-4},{"s":8,"x":51,"y":-8},{"s":8,"x":52,"y":-12},{"s":8,"x":53,"y":-10},{"s":8,"x":54,"y":-6},{"s":8,"x":55,"y":-13},
{"s":9,"x":8,"y":1},{"s":9,"x":9,"y":-4},{"s":9,"x":10,"y":2},{"s":9,"x":11,"y":5},{"s":9,"x":12,"y":0},{"s":9,"x":13,"y":-3},{"s":9,"x":14,"y":9},{"s":9,"x":15,"y":-2},{"s":9,"x":16,"y":3},{"s":9,"x":17,"y":-1},{"s":9,"x":18,"y":4},{"s":9,"x":19,"y":-3},{"s":9,"x":20,"y":2},{"s":9,"x":21,"y":4},{"s":9,"x":22,"y":2},{"s":9,"x":23,"y":1},{"s":9,"x":24,"y":0},{"s":9,"x":25,"y":3},{"s":9,"x":26,"y":1},{"s":9,"x":27,"y":3},{"s":9,"x":28,"y":2},{"s":9,"x":29,"y":6},{"s":9,"x":30,"y":0},{"s":9,"x":31,"y":2},{"s":9,"x":32,"y":-3},{"s":9,"x":33,"y":3},{"s":9,"x":34,"y":-2},{"s":9,"x":35,"y":-1},{"s":9,"x":36,"y":-5},{"s":9,"x":37,"y":-12},{"s":9,"x":38,"y":-19},{"s":9,"x":39,"y":-14},{"s":9,"x":40,"y":-20},{"s":9,"x":41,"y":-23},{"s":9,"x":42,"y":-14},{"s":9,"x":43,"y":-18},{"s":9,"x":44,"y":-15},{"s":9,"x":45,"y":-10},{"s":9,"x":46,"y":-17},{"s":9,"x":47,"y":-12},{"s":9,"x":48,"y":-11},{"s":9,"x":49,"y":-6},{"s":9,"x":50,"y":-9},{"s":9,"x":51,"y":-12},{"s":9,"x":52,"y":-8},{"s":9,"x":53,"y":-16},{"s":9,"x":54,"y":-9},{"s":9,"x":55,"y":-7}
],
"br":[
{"s":1,"x":8,"y":11},{"s":1,"x":9,"y":2},{"s":1,"x":10,"y":-1},{"s":1,"x":11,"y":4},{"s":1,"x":12,"y":0},{"s":1,"x":13,"y":-3},{"s":1,"x":14,"y":21},{"s":1,"x":15,"y":5},{"s":1,"x":16,"y":-2},{"s":1,"x":17,"y":3},{"s":1,"x":18,"y":0},{"s":1,"x":19,"y":2},{"s":1,"x":20,"y":-1},{"s":1,"x":21,"y":4},{"s":1,"x":22,"y":1},{"s":1,"x":23,"y":-2},{"s":1,"x":24,"y":3},{"s":1,"x":25,"y":0},{"s":1,"x":26,"y":2},{"s":1,"x":27,"y":-1},{"s":1,"x":28,"y":1},{"s":1,"x":29,"y":16},{"s":1,"x":30,"y":3},{"s":1,"x":31,"y":-9},{"s":1,"x":32,"y":2},{"s":1,"x":33,"y":0},{"s":1,"x":34,"y":10},{"s":1,"x":35,"y":-2},{"s":1,"x":36,"y":1},{"s":1,"x":37,"y":4},{"s":1,"x":38,"y":22},{"s":1,"x":39,"y":5},{"s":1,"x":40,"y":-2},{"s":1,"x":41,"y":3},{"s":1,"x":42,"y":-1},{"s":1,"x":43,"y":2},{"s":1,"x":44,"y":12},{"s":1,"x":45,"y":5},{"s":1,"x":46,"y":-4},{"s":1,"x":47,"y":-1},{"s":1,"x":48,"y":5},{"s":1,"x":49,"y":0},{"s":1,"x":50,"y":-2},{"s":1,"x":51,"y":9},{"s":1,"x":52,"y":1},{"s":1,"x":53,"y":-4},{"s":1,"x":54,"y":5},{"s":1,"x":55,"y":-2},
{"s":2,"x":8,"y":-5},{"s":2,"x":9,"y":6},{"s":2,"x":10,"y":1},{"s":2,"x":11,"y":-3},{"s":2,"x":12,"y":2},{"s":2,"x":13,"y":-11},{"s":2,"x":14,"y":3},{"s":2,"x":15,"y":14},{"s":2,"x":16,"y":-1},{"s":2,"x":17,"y":-6},{"s":2,"x":18,"y":2},{"s":2,"x":19,"y":-2},{"s":2,"x":20,"y":5},{"s":2,"x":21,"y":-14},{"s":2,"x":22,"y":-3},{"s":2,"x":23,"y":4},{"s":2,"x":24,"y":-1},{"s":2,"x":25,"y":2},{"s":2,"x":26,"y":-4},{"s":2,"x":27,"y":3},{"s":2,"x":28,"y":-2},{"s":2,"x":29,"y":4},{"s":2,"x":30,"y":-1},{"s":2,"x":31,"y":2},{"s":2,"x":32,"y":-6},{"s":2,"x":33,"y":5},{"s":2,"x":34,"y":-1},{"s":2,"x":35,"y":-10},{"s":2,"x":36,"y":3},{"s":2,"x":37,"y":0},{"s":2,"x":38,"y":8},{"s":2,"x":39,"y":-3},{"s":2,"x":40,"y":-11},{"s":2,"x":41,"y":2},{"s":2,"x":42,"y":11},{"s":2,"x":43,"y":-4},{"s":2,"x":44,"y":1},{"s":2,"x":45,"y":-6},{"s":2,"x":46,"y":-16},{"s":2,"x":47,"y":-3},{"s":2,"x":48,"y":1},{"s":2,"x":49,"y":-5},{"s":2,"x":50,"y":2},{"s":2,"x":51,"y":-3},{"s":2,"x":52,"y":-7},{"s":2,"x":53,"y":-15},{"s":2,"x":54,"y":2},{"s":2,"x":55,"y":-11},
{"s":3,"x":8,"y":3},{"s":3,"x":9,"y":-2},{"s":3,"x":10,"y":5},{"s":3,"x":11,"y":0},{"s":3,"x":12,"y":-4},{"s":3,"x":13,"y":2},{"s":3,"x":14,"y":-8},{"s":3,"x":15,"y":8},{"s":3,"x":16,"y":3},{"s":3,"x":17,"y":-2},{"s":3,"x":18,"y":6},{"s":3,"x":19,"y":10},{"s":3,"x":20,"y":-4},{"s":3,"x":21,"y":2},{"s":3,"x":22,"y":6},{"s":3,"x":23,"y":-1},{"s":3,"x":24,"y":3},{"s":3,"x":25,"y":-3},{"s":3,"x":26,"y":1},{"s":3,"x":27,"y":5},{"s":3,"x":28,"y":-2},{"s":3,"x":29,"y":2},{"s":3,"x":30,"y":-9},{"s":3,"x":31,"y":4},{"s":3,"x":32,"y":10},{"s":3,"x":33,"y":-3},{"s":3,"x":34,"y":2},{"s":3,"x":35,"y":6},{"s":3,"x":36,"y":-4},{"s":3,"x":37,"y":3},{"s":3,"x":38,"y":14},{"s":3,"x":39,"y":-1},{"s":3,"x":40,"y":4},{"s":3,"x":41,"y":-7},{"s":3,"x":42,"y":3},{"s":3,"x":43,"y":-2},{"s":3,"x":44,"y":-8},{"s":3,"x":45,"y":2},{"s":3,"x":46,"y":-3},{"s":3,"x":47,"y":4},{"s":3,"x":48,"y":-6},{"s":3,"x":49,"y":2},{"s":3,"x":50,"y":0},{"s":3,"x":51,"y":-5},{"s":3,"x":52,"y":3},{"s":3,"x":53,"y":-8},{"s":3,"x":54,"y":-1},{"s":3,"x":55,"y":3},
{"s":4,"x":8,"y":0},{"s":4,"x":9,"y":4},{"s":4,"x":10,"y":-3},{"s":4,"x":11,"y":2},{"s":4,"x":12,"y":6},{"s":4,"x":13,"y":1},{"s":4,"x":14,"y":12},{"s":4,"x":15,"y":-2},{"s":4,"x":16,"y":1},{"s":4,"x":17,"y":4},{"s":4,"x":18,"y":-3},{"s":4,"x":19,"y":1},{"s":4,"x":20,"y":3},{"s":4,"x":21,"y":0},{"s":4,"x":22,"y":-5},{"s":4,"x":23,"y":2},{"s":4,"x":24,"y":5},{"s":4,"x":25,"y":-2},{"s":4,"x":26,"y":3},{"s":4,"x":27,"y":0},{"s":4,"x":28,"y":4},{"s":4,"x":29,"y":-1},{"s":4,"x":30,"y":1},{"s":4,"x":31,"y":-4},{"s":4,"x":32,"y":4},{"s":4,"x":33,"y":9},{"s":4,"x":34,"y":-3},{"s":4,"x":35,"y":1},{"s":4,"x":36,"y":5},{"s":4,"x":37,"y":-2},{"s":4,"x":38,"y":10},{"s":4,"x":39,"y":3},{"s":4,"x":40,"y":1},{"s":4,"x":41,"y":-3},{"s":4,"x":42,"y":5},{"s":4,"x":43,"y":1},{"s":4,"x":44,"y":-2},{"s":4,"x":45,"y":1},{"s":4,"x":46,"y":-9},{"s":4,"x":47,"y":2},{"s":4,"x":48,"y":-1},{"s":4,"x":49,"y":3},{"s":4,"x":50,"y":-4},{"s":4,"x":51,"y":1},{"s":4,"x":52,"y":-2},{"s":4,"x":53,"y":-6},{"s":4,"x":54,"y":3},{"s":4,"x":55,"y":-4},
{"s":5,"x":8,"y":7},{"s":5,"x":9,"y":-1},{"s":5,"x":10,"y":2},{"s":5,"x":11,"y":-5},{"s":5,"x":12,"y":3},{"s":5,"x":13,"y":0},{"s":5,"x":14,"y":5},{"s":5,"x":15,"y":-6},{"s":5,"x":16,"y":4},{"s":5,"x":17,"y":0},{"s":5,"x":18,"y":-2},{"s":5,"x":19,"y":4},{"s":5,"x":20,"y":1},{"s":5,"x":21,"y":-3},{"s":5,"x":22,"y":2},{"s":5,"x":23,"y":5},{"s":5,"x":24,"y":-2},{"s":5,"x":25,"y":4},{"s":5,"x":26,"y":-1},{"s":5,"x":27,"y":2},{"s":5,"x":28,"y":0},{"s":5,"x":29,"y":6},{"s":5,"x":30,"y":-2},{"s":5,"x":31,"y":1},{"s":5,"x":32,"y":-1},{"s":5,"x":33,"y":2},{"s":5,"x":34,"y":4},{"s":5,"x":35,"y":-4},{"s":5,"x":36,"y":2},{"s":5,"x":37,"y":-1},{"s":5,"x":38,"y":6},{"s":5,"x":39,"y":-2},{"s":5,"x":40,"y":-5},{"s":5,"x":41,"y":1},{"s":5,"x":42,"y":-2},{"s":5,"x":43,"y":4},{"s":5,"x":44,"y":3},{"s":5,"x":45,"y":-3},{"s":5,"x":46,"y":0},{"s":5,"x":47,"y":-5},{"s":5,"x":48,"y":2},{"s":5,"x":49,"y":-2},{"s":5,"x":50,"y":-6},{"s":5,"x":51,"y":-1},{"s":5,"x":52,"y":-4},{"s":5,"x":53,"y":-10},{"s":5,"x":54,"y":-2},{"s":5,"x":55,"y":1},
{"s":6,"x":8,"y":-2},{"s":6,"x":9,"y":1},{"s":6,"x":10,"y":-4},{"s":6,"x":11,"y":3},{"s":6,"x":12,"y":-1},{"s":6,"x":13,"y":4},{"s":6,"x":14,"y":-2},{"s":6,"x":15,"y":2},{"s":6,"x":16,"y":-5},{"s":6,"x":17,"y":1},{"s":6,"x":18,"y":3},{"s":6,"x":19,"y":-4},{"s":6,"x":20,"y":0},{"s":6,"x":21,"y":3},{"s":6,"x":22,"y":-2},{"s":6,"x":23,"y":1},{"s":6,"x":24,"y":-4},{"s":6,"x":25,"y":1},{"s":6,"x":26,"y":-2},{"s":6,"x":27,"y":1},{"s":6,"x":28,"y":3},{"s":6,"x":29,"y":-3},{"s":6,"x":30,"y":2},{"s":6,"x":31,"y":-2},{"s":6,"x":32,"y":1},{"s":6,"x":33,"y":-4},{"s":6,"x":34,"y":1},{"s":6,"x":35,"y":3},{"s":6,"x":36,"y":-1},{"s":6,"x":37,"y":2},{"s":6,"x":38,"y":4},{"s":6,"x":39,"y":1},{"s":6,"x":40,"y":-3},{"s":6,"x":41,"y":-1},{"s":6,"x":42,"y":-5},{"s":6,"x":43,"y":0},{"s":6,"x":44,"y":-4},{"s":6,"x":45,"y":-1},{"s":6,"x":46,"y":2},{"s":6,"x":47,"y":-2},{"s":6,"x":48,"y":-3},{"s":6,"x":49,"y":1},{"s":6,"x":50,"y":-3},{"s":6,"x":51,"y":-2},{"s":6,"x":52,"y":-1},{"s":6,"x":53,"y":-7},{"s":6,"x":54,"y":0},{"s":6,"x":55,"y":-6}
]
},
"concat":[
{"width":571,"height":28,"data":{"values":[{"t":"TimeInterval : [200,400)"}]},"mark":{"type":"text","fontSize":22,"baseline":"middle","color":"black"},"encoding":{"text":{"field":"t"}},"view":{"fill":"#ccffcc","stroke":"black"}},
{"width":571,"height":28,"data":{"values":[{"t":"TimeInterval : [200,400)"}]},"mark":{"type":"text","fontSize":22,"baseline":"middle","color":"black"},"encoding":{"text":{"field":"t"}},"view":{"fill":"#ccffcc","stroke":"black"}},
{"width":571,"height":28,"data":{"values":[{"t":"Placebo : No"}]},"mark":{"type":"text","fontSize":22,"baseline":"middle","color":"black"},"encoding":{"text":{"field":"t"}},"view":{"fill":"#ffe5cc","stroke":"black"}},
{"width":571,"height":28,"data":{"values":[{"t":"Placebo : Yes"}]},"mark":{"type":"text","fontSize":22,"baseline":"middle","color":"black"},"encoding":{"text":{"field":"t"}},"view":{"fill":"#ffe5cc","stroke":"black"}},
{"width":571,"height":228,"data":{"name":"tl"},"layer":[
{"mark":{"type":"line","color":"#0000ff","strokeWidth":1},"encoding":{"x":{"field":"x","type":"quantitative","scale":{"domain":[341.4,368.8],"nice":false,"zero":false},"axis":{"values":[345,350,355,360,365],"title":null}},"y":{"field":"y","type":"quantitative","scale":{"domain":[-38,46.5],"nice":false},"axis":{"orient":"left","values":[-20,0,20,40],"labelExpr":"datum.value + ''","title":null}},"detail":{"field":"s"}}},
{"data":{"values":[{"v":0}]},"mark":{"type":"rule","color":"black","strokeDash":[7,5],"strokeWidth":1.2},"encoding":{"y":{"field":"v","type":"quantitative"}}}]},
{"width":571,"height":228,"data":{"name":"tr"},"layer":[
{"mark":{"type":"line","color":"#0000ff","strokeWidth":1},"encoding":{"x":{"field":"x","type":"quantitative","scale":{"domain":[341.4,368.8],"nice":false,"zero":false},"axis":{"values":[345,350,355,360,365],"title":null}},"y":{"field":"y","type":"quantitative","scale":{"domain":[-38,46.5],"nice":false},"axis":{"orient":"right","values":[-20,0,20,40],"labels":false,"title":null}},"detail":{"field":"s"}}},
{"data":{"values":[{"v":0}]},"mark":{"type":"rule","color":"black","strokeDash":[7,5],"strokeWidth":1.2},"encoding":{"y":{"field":"v","type":"quantitative"}}}]},
{"width":571,"height":50,"data":{"values":[{"t":""}]},"mark":"text","encoding":{"text":{"field":"t"}},"view":{"stroke":null}},
{"width":571,"height":50,"data":{"values":[{"t":""}]},"mark":"text","encoding":{"text":{"field":"t"}},"view":{"stroke":null}},
{"width":571,"height":28,"data":{"values":[{"t":"TimeInterval : [100,200)"}]},"mark":{"type":"text","fontSize":22,"baseline":"middle","color":"black"},"encoding":{"text":{"field":"t"}},"view":{"fill":"#ccffcc","stroke":"black"}},
{"width":571,"height":28,"data":{"values":[{"t":"TimeInterval : [100,200)"}]},"mark":{"type":"text","fontSize":22,"baseline":"middle","color":"black"},"encoding":{"text":{"field":"t"}},"view":{"fill":"#ccffcc","stroke":"black"}},
{"width":571,"height":28,"data":{"values":[{"t":"Placebo : No"}]},"mark":{"type":"text","fontSize":22,"baseline":"middle","color":"black"},"encoding":{"text":{"field":"t"}},"view":{"fill":"#ffe5cc","stroke":"black"}},
{"width":571,"height":28,"data":{"values":[{"t":"Placebo : Yes"}]},"mark":{"type":"text","fontSize":22,"baseline":"middle","color":"black"},"encoding":{"text":{"field":"t"}},"view":{"fill":"#ffe5cc","stroke":"black"}},
{"width":571,"height":228,"data":{"name":"ml"},"layer":[
{"mark":{"type":"line","color":"#0000ff","strokeWidth":1},"encoding":{"x":{"field":"x","type":"quantitative","scale":{"domain":[173.6,200.9],"nice":false,"zero":false},"axis":{"values":[175,180,185,190,195,200],"title":null}},"y":{"field":"y","type":"quantitative","scale":{"domain":[-38,46.5],"nice":false},"axis":{"orient":"left","values":[-20,0,20,40],"labels":false,"title":"Observed heart rate - predicted baseline (BPM)","titleFontSize":22.5,"titlePadding":54}},"detail":{"field":"s"}}},
{"data":{"values":[{"v":0}]},"mark":{"type":"rule","color":"black","strokeDash":[7,5],"strokeWidth":1.2},"encoding":{"y":{"field":"v","type":"quantitative"}}}]},
{"width":571,"height":228,"data":{"name":"mr"},"layer":[
{"mark":{"type":"line","color":"#0000ff","strokeWidth":1},"encoding":{"x":{"field":"x","type":"quantitative","scale":{"domain":[173.6,200.9],"nice":false,"zero":false},"axis":{"values":[175,180,185,190,195,200],"title":null}},"y":{"field":"y","type":"quantitative","scale":{"domain":[-38,46.5],"nice":false},"axis":{"orient":"right","values":[-20,0,20,40],"labelExpr":"datum.value + ''","title":null}},"detail":{"field":"s"}}},
{"data":{"values":[{"v":0}]},"mark":{"type":"rule","color":"black","strokeDash":[7,5],"strokeWidth":1.2},"encoding":{"y":{"field":"v","type":"quantitative"}}}]},
{"width":571,"height":50,"data":{"values":[{"t":""}]},"mark":"text","encoding":{"text":{"field":"t"}},"view":{"stroke":null}},
{"width":571,"height":50,"data":{"values":[{"t":""}]},"mark":"text","encoding":{"text":{"field":"t"}},"view":{"stroke":null}},
{"width":571,"height":28,"data":{"values":[{"t":"TimeInterval : [0,100)"}]},"mark":{"type":"text","fontSize":22,"baseline":"middle","color":"black"},"encoding":{"text":{"field":"t"}},"view":{"fill":"#ccffcc","stroke":"black"}},
{"width":571,"height":28,"data":{"values":[{"t":"TimeInterval : [0,100)"}]},"mark":{"type":"text","fontSize":22,"baseline":"middle","color":"black"},"encoding":{"text":{"field":"t"}},"view":{"fill":"#ccffcc","stroke":"black"}},
{"width":571,"height":28,"data":{"values":[{"t":"Placebo : No"}]},"mark":{"type":"text","fontSize":22,"baseline":"middle","color":"black"},"encoding":{"text":{"field":"t"}},"view":{"fill":"#ffe5cc","stroke":"black"}},
{"width":571,"height":28,"data":{"values":[{"t":"Placebo : Yes"}]},"mark":{"type":"text","fontSize":22,"baseline":"middle","color":"black"},"encoding":{"text":{"field":"t"}},"view":{"fill":"#ffe5cc","stroke":"black"}},
{"width":571,"height":228,"data":{"name":"bl"},"layer":[
{"mark":{"type":"line","color":"#0000ff","strokeWidth":1},"encoding":{"x":{"field":"x","type":"quantitative","scale":{"domain":[4,58.5],"nice":false,"zero":false},"axis":{"values":[10,20,30,40,50],"title":"Drug","titleFontSize":62,"titleX":248,"titleY":106,"titleBaseline":"alphabetic","titleAlign":"center"}},"y":{"field":"y","type":"quantitative","scale":{"domain":[-38,46.5],"nice":false},"axis":{"orient":"left","values":[-20,0,20,40],"labelExpr":"datum.value + ''","title":null}},"detail":{"field":"s"}}},
{"data":{"values":[{"v":0}]},"mark":{"type":"rule","color":"black","strokeDash":[7,5],"strokeWidth":1.2},"encoding":{"y":{"field":"v","type":"quantitative"}}}]},
{"width":571,"height":228,"data":{"name":"br"},"layer":[
{"mark":{"type":"line","color":"#0000ff","strokeWidth":1},"encoding":{"x":{"field":"x","type":"quantitative","scale":{"domain":[4,58.5],"nice":false,"zero":false},"axis":{"values":[10,20,30,40,50],"title":"Placebo","titleFontSize":62,"titleX":286,"titleY":106,"titleBaseline":"alphabetic","titleAlign":"center"}},"y":{"field":"y","type":"quantitative","scale":{"domain":[-38,46.5],"nice":false},"axis":{"orient":"right","values":[-20,0,20,40],"labels":false,"title":null}},"detail":{"field":"s"}}},
{"data":{"values":[{"v":0}]},"mark":{"type":"rule","color":"black","strokeDash":[7,5],"strokeWidth":1.2},"encoding":{"y":{"field":"v","type":"quantitative"}}}]}
]
}
